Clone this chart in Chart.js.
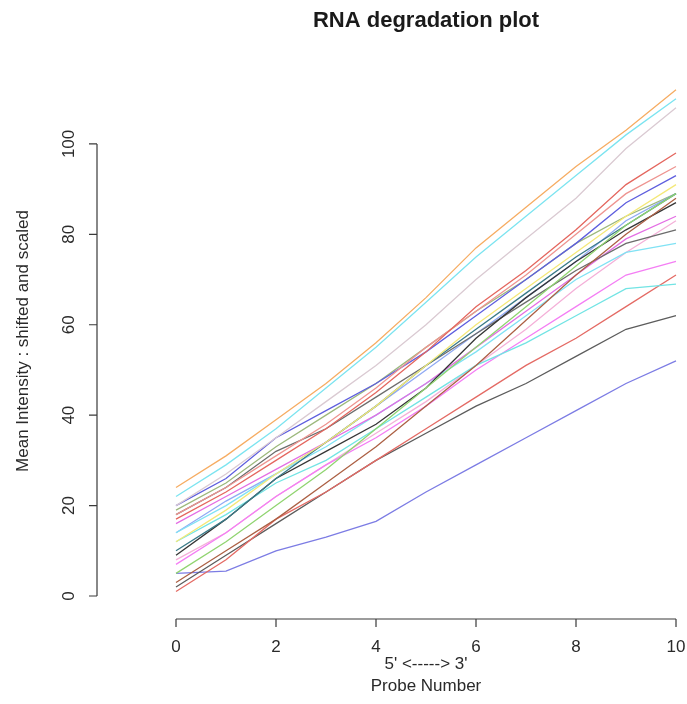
<!DOCTYPE html>
<html>
<head>
<meta charset="utf-8">
<script src="https://cdn.jsdelivr.net/npm/chart.js@4/dist/chart.umd.min.js"></script>
<style>
html,body{margin:0;padding:0;background:#fff;overflow:hidden;width:687px;height:704px;}
#wrap{width:780px;height:704px;}
</style>
</head>
<body>
<div id="wrap"><canvas id="c" width="780" height="704"></canvas></div>
<script>
// Probe positions (5' -> 3')
const probeNumbers = [0,1,2,3,4,5,6,7,8,9,10];
const xTicks = [0,2,4,6,8,10];
const yTicks = [0,20,40,60,80,100];

// Mean intensity (shifted and scaled), one array per array/sample
const sOrange   = [24,31,39,47,56,66,77,86,95,103,112];
const sCyanTop  = [22,29,37,46,55,65,75,84,93,102,110];
const sGrayTop  = [20,27,35,43,51,60,70,79,88,99,108];
const sRedTop   = [17,23,30,37,45,54,64,72,81,91,98];
const sSalmon   = [18,24,31,38,46,55,63,71,80,89,95];
const sBlue     = [20,26,35,41,47,54,62,70,78,87,93];
const sYellow   = [12,19,27,34,42,51,60,68,76,84,91];
const sGreen    = [5,12,20,28,37,46,55,64,73,82,89];
const sTeal     = [10,17,26,34,42,51,59,67,75,82,89];
const sBrown    = [3,10,17,25,33,42,51,61,71,80,88];
const sBlack    = [9,17,26,32,38,46,57,66,74,81,87];
const sDarkGray = [18,24,32,37,44,51,58,65,72,78,81];
const sMagenta  = [16,22,28,34,40,47,55,63,71,79,84];
const sCyanLow  = [12,18,25,30,37,44,51,56,62,68,69];
const sPink     = [7,14,22,29,35,42,50,57,64,71,74];
const sRedLow   = [1,8,17,23,30,37,44,51,57,64,71];
const sGrayLow  = [2,9,16,23,30,36,42,47,53,59,62];
const sPurple   = [5,5.5,10,13,16.5,23,29,35,41,47,52];
const sCyanMid  = [14,20,27,33,40,47,54,62,70,76,78];
const sLightBlue= [14,21,27,34,42,50,58,66,74,83,89];
const sRose     = [8,14,22,29,36,43,51,59,68,76,83];
const sOlive    = [19,25,33,40,47,55,63,70,78,84,89];

const seriesList = [
  [sOrange,'#f6ac62'],[sCyanTop,'#7ce4f0'],[sGrayTop,'#dacad2'],[sRedTop,'#e4665e'],
  [sSalmon,'#ee9490'],[sBlue,'#5e5ede'],[sYellow,'#f4e878'],[sGreen,'#90d470'],
  [sTeal,'#3a7a88'],[sBrown,'#ac6044'],[sBlack,'#363636'],[sDarkGray,'#6c6c6c'],
  [sMagenta,'#e46ee4'],[sCyanLow,'#72e4e4'],[sPink,'#f47ef4'],[sRedLow,'#e46a64'],
  [sGrayLow,'#5c5c5c'],[sPurple,'#7c7ce4'],[sCyanMid,'#80e2f4'],[sLightBlue,'#90aaf4'],
  [sRose,'#f4b0d8'],[sOlive,'#9cb87c']
];

const datasets = seriesList.map(([vals,col]) => ({
  data: probeNumbers.map((x,i) => ({x:x, y:vals[i]})),
  borderColor: col,
  borderWidth: 1.3,
  pointRadius: 0,
  fill: false,
  tension: 0
}));

const FONT = '"Liberation Sans", Arial, Helvetica, sans-serif';

const rAxes = {
  id: 'rAxes',
  afterDraw(chart) {
    const ctx = chart.ctx;
    const xs = chart.scales.x, ys = chart.scales.y;
    const ca = chart.chartArea;
    const tick = 8;
    ctx.save();
    ctx.strokeStyle = '#3a3a3a';
    ctx.fillStyle = '#2a2a2a';
    ctx.lineWidth = 1.2;
    // x axis
    const xAxisY = ca.bottom;
    ctx.beginPath();
    ctx.moveTo(xs.getPixelForValue(xTicks[0]), xAxisY);
    ctx.lineTo(xs.getPixelForValue(xTicks[xTicks.length-1]), xAxisY);
    xTicks.forEach(v => {
      const p = xs.getPixelForValue(v);
      ctx.moveTo(p, xAxisY); ctx.lineTo(p, xAxisY + tick);
    });
    ctx.stroke();
    ctx.font = '17px ' + FONT;
    ctx.textAlign = 'center';
    ctx.textBaseline = 'middle';
    xTicks.forEach(v => ctx.fillText(String(v), xs.getPixelForValue(v), xAxisY + 28));
    const midX = (ca.left + ca.right) / 2;
    ctx.fillText("5' <-----> 3'", midX, xAxisY + 45);
    ctx.fillText('Probe Number', midX, xAxisY + 67);
    // y axis
    const yAxisX = ca.left;
    ctx.beginPath();
    ctx.moveTo(yAxisX, ys.getPixelForValue(yTicks[0]));
    ctx.lineTo(yAxisX, ys.getPixelForValue(yTicks[yTicks.length-1]));
    yTicks.forEach(v => {
      const p = ys.getPixelForValue(v);
      ctx.moveTo(yAxisX, p); ctx.lineTo(yAxisX - tick, p);
    });
    ctx.stroke();
    yTicks.forEach(v => {
      ctx.save();
      ctx.translate(yAxisX - 28, ys.getPixelForValue(v));
      ctx.rotate(-Math.PI/2);
      ctx.fillText(String(v), 0, 0);
      ctx.restore();
    });
    ctx.save();
    ctx.translate(23, (ca.top + ca.bottom) / 2);
    ctx.rotate(-Math.PI/2);
    ctx.fillText('Mean Intensity : shifted and scaled', 0, 0);
    ctx.restore();
    // title
    ctx.font = 'bold 22px ' + FONT;
    ctx.fillStyle = '#1a1a1a';
    ctx.fillText('RNA degradation plot', midX, 21);
    ctx.restore();
  }
};

new Chart(document.getElementById('c'), {
  type: 'line',
  data: { datasets },
  options: {
    responsive: false,
    devicePixelRatio: 1,
    animation: false,
    layout: { padding: { left: 97, right: 25, top: 63, bottom: 85 } },
    plugins: { legend: { display: false }, tooltip: { enabled: false }, title: { display: false } },
    scales: {
      x: { type: 'linear', min: -1.58, max: 11.58, display: false },
      y: { type: 'linear', min: -5.09, max: 117.9, display: false }
    }
  },
  plugins: [rAxes]
});
</script>
</body>
</html>
